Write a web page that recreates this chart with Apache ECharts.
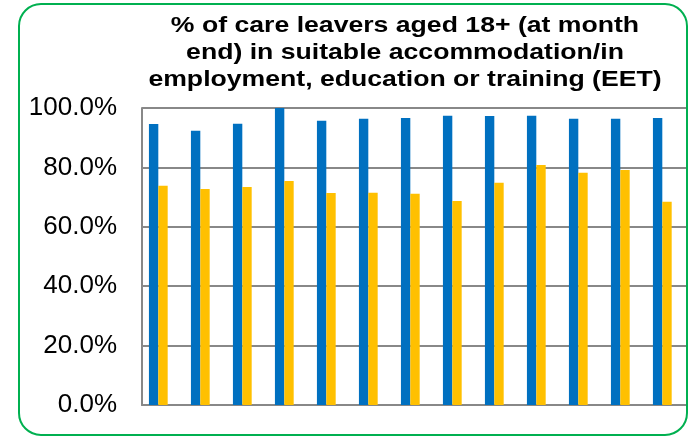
<!DOCTYPE html>
<html>
<head>
<meta charset="utf-8">
<script src="https://cdn.jsdelivr.net/npm/echarts@6/dist/echarts.min.js"></script>
<style>
    html, body { margin: 0; padding: 0; background: #fff; }
    #chart { width: 688px; height: 437px; }
</style>
</head>
<body>
<div id="chart"></div>
<script>
    // month ends (labels are cut off in the picture)
    var months = ['Apr', 'May', 'Jun', 'Jul', 'Aug', 'Sep', 'Oct', 'Nov', 'Dec', 'Jan', 'Feb', 'Mar', 'Apr'];
    // % in suitable accommodation
    var accommodation = [94.6, 92.3, 94.7, 100, 95.7, 96.4, 96.6, 97.4, 97.3, 97.4, 96.4, 96.4, 96.6];
    // % in EET
    var eet = [73.8, 72.7, 73.4, 75.4, 71.4, 71.5, 71.1, 68.7, 74.8, 80.8, 78.2, 79.1, 68.4];
    var titleText = '% of care leavers aged 18+ (at month\nend) in suitable accommodation/in\nemployment, education or training (EET)';

    var chart = echarts.init(document.getElementById('chart'));

    var option = {
        animation: false,
        graphic: [
            {
                // title, drawn wide like the source picture
                type: 'text',
                x: 405,
                y: 12,
                scaleX: 1.21,
                style: {
                    text: titleText,
                    textAlign: 'center',
                    textVerticalAlign: 'top',
                    fontFamily: 'Liberation Sans',
                    fontWeight: 'bold',
                    fontSize: 22,
                    lineHeight: 27,
                    fill: '#000'
                }
            },
            {
                type: 'rect',
                shape: { x: 19, y: 4, width: 668, height: 431, r: 22 },
                style: { fill: 'none', stroke: '#00B050', lineWidth: 2 },
                z: 100
            }
        ],
        grid: {
            left: 142,
            right: 0,
            top: 108,
            bottom: 32
        },
        xAxis: {
            type: 'category',
            data: months,
            axisLine: { lineStyle: { color: '#888', width: 2 } },
            axisTick: { show: false },
            axisLabel: { show: false }
        },
        yAxis: {
            type: 'value',
            min: 0,
            max: 100,
            interval: 20,
            axisLine: { show: true, lineStyle: { color: '#888', width: 2 } },
            axisTick: { show: false },
            axisLabel: {
                margin: 25,
                fontFamily: 'Liberation Sans',
                fontSize: 26,
                color: '#000',
                formatter: function (v) { return v.toFixed(1) + '%'; }
            },
            splitLine: { lineStyle: { color: '#888', width: 2 } }
        },
        series: [
            {
                name: 'Suitable accommodation',
                type: 'bar',
                data: accommodation,
                barGap: '0%',
                barCategoryGap: '33%',
                itemStyle: { color: '#0070C0' }
            },
            {
                name: 'EET',
                type: 'bar',
                data: eet,
                itemStyle: { color: '#FFC000' }
            },
            {
                // empty third slot, as in the original cluster layout
                name: 'blank',
                type: 'bar',
                data: []
            }
        ]
    };

    chart.setOption(option);
</script>
</body>
</html>
